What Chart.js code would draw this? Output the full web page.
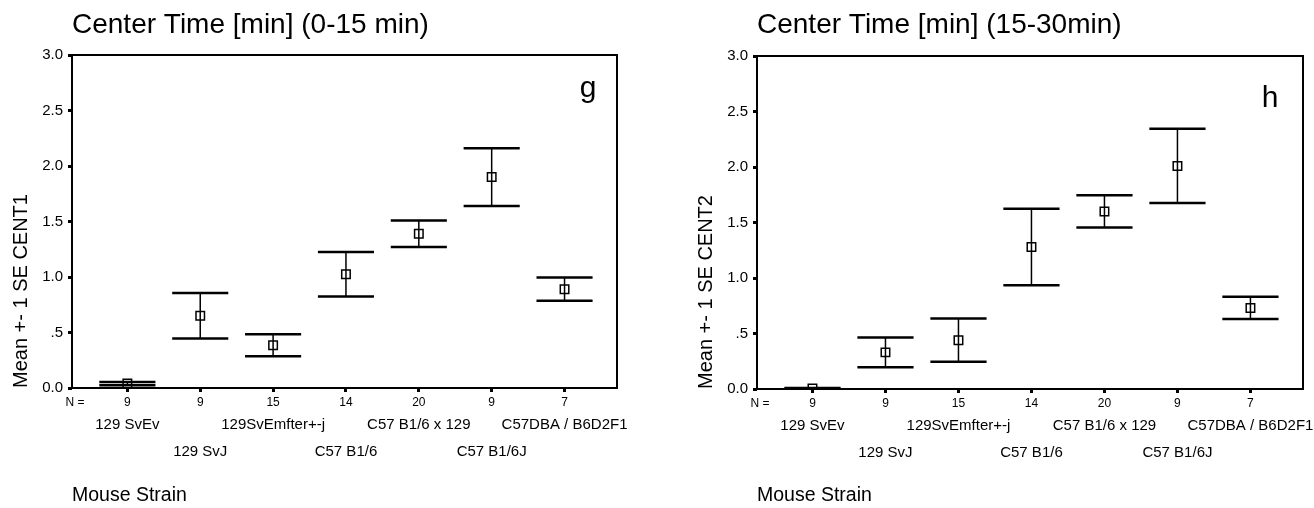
<!DOCTYPE html>
<html>
<head>
<meta charset="utf-8">
<script src="https://cdn.jsdelivr.net/npm/chart.js@4.4.0/dist/chart.umd.min.js"></script>
<style>
  html, body { margin: 0; padding: 0; background: #fff; overflow: hidden; }
  #wrap { position: relative; width: 1314px; height: 508px; overflow: hidden; }
  canvas { position: absolute; top: 0; }
</style>
</head>
<body>
<div id="wrap">
  <canvas id="chartG" width="685" height="508" style="left:0px"></canvas>
  <canvas id="chartH" width="629" height="508" style="left:685px"></canvas>
</div>
<script>
// data
const strains = ["129 SvEv", "129 SvJ", "129SvEmfter+-j", "C57 B1/6", "C57 B1/6 x 129", "C57 B1/6J", "C57DBA / B6D2F1"];
const nValues = [9, 9, 15, 14, 20, 9, 7];
const yTicks = [0, 0.5, 1, 1.5, 2, 2.5, 3];

const cent1Mean = [0.04, 0.65, 0.385, 1.025, 1.39, 1.9, 0.89];
const cent1Se   = [0.015, 0.205, 0.1, 0.2, 0.12, 0.26, 0.105];

const cent2Mean = [0.005, 0.33, 0.44, 1.28, 1.6, 2.01, 0.73];
const cent2Se   = [0.005, 0.135, 0.195, 0.345, 0.145, 0.335, 0.1];

const FONT = '"Liberation Sans", Arial, sans-serif';
const CAP = 0.385; // half width of the error bar caps, in category units
Chart.defaults.font.family = FONT;
Chart.defaults.color = "#000";

// box round the plot + panel letter
const framePlugin = {
  id: "frame",
  beforeDatasetsDraw(chart, args, opts) {
    const { ctx, chartArea: a } = chart;
    ctx.save();
    ctx.strokeStyle = "#000";
    ctx.lineWidth = 2;
    ctx.strokeRect(a.left, a.top, a.right - a.left, a.bottom - a.top);
    ctx.font = "30px " + FONT;
    ctx.fillStyle = "#000";
    ctx.textAlign = "center";
    ctx.textBaseline = "alphabetic";
    ctx.fillText(opts.letter, a.right - opts.dx, a.top + opts.dy);
    ctx.restore();
  }
};

const buildDatasets = (mean, se) => {
  const points = [], whiskers = [], upper = [], lower = [];
  mean.forEach((m, i) => {
    points.push({ x: i, y: m });
    whiskers.push({ x: i, y: m - se[i] }, { x: i, y: m + se[i] }, { x: i, y: null });
    upper.push({ x: i - CAP, y: m + se[i] }, { x: i + CAP, y: m + se[i] }, { x: i, y: null });
    lower.push({ x: i - CAP, y: m - se[i] }, { x: i + CAP, y: m - se[i] }, { x: i, y: null });
  });
  const line = { showLine: true, pointRadius: 0, borderColor: "#000", spanGaps: false };
  return [
    { data: points, showLine: false, pointStyle: "rect", pointRadius: 6, pointBorderWidth: 1.5,
      pointBorderColor: "#000", pointBackgroundColor: "rgba(0,0,0,0)" },
    { ...line, data: whiskers, borderWidth: 1.5 },
    { ...line, data: upper, borderWidth: 2.5 },
    { ...line, data: lower, borderWidth: 2.5 }
  ];
};

const catTicks = (extra) => (s) => {
  s.ticks = extra.concat([0, 1, 2, 3, 4, 5, 6]).map(v => ({ value: v }));
};

// labels may run past the plot edge, as in the figure
const fixedHeight = (h) => (s) => {
  s.height = h;
  s.paddingLeft = 0;
  s.paddingRight = 0;
};

const renderChart = (id, title, yTitle, mean, se, o) => {
  const ctx = document.getElementById(id);
  return new Chart(ctx, {
    type: "scatter",
    data: { datasets: buildDatasets(mean, se) },
    options: {
      responsive: false,
      animation: false,
      devicePixelRatio: 1,
      layout: { padding: { left: 0, right: o.padRight, top: 0, bottom: 0 } },
      plugins: {
        legend: { display: false },
        tooltip: { enabled: false },
        title: {
          display: true, text: title, align: "start", fullSize: false, color: "#000",
          font: { size: 28, weight: "normal" }, padding: { top: 8.5, bottom: o.titleBottom }
        },
        subtitle: {
          display: true, text: "Mouse Strain", position: "bottom", align: "start", fullSize: false,
          color: "#000", font: { size: 19.5, weight: "normal" }, padding: { top: o.subTop, bottom: 1 }
        },
        frame: { letter: o.letter, dx: o.letterDx, dy: o.letterDy }
      },
      scales: {
        x: {
          type: "linear", position: "bottom", min: -0.76, max: 6.72, weight: 0,
          afterBuildTicks: catTicks([-0.72]),
          afterFit: fixedHeight(18),
          border: { display: false },
          grid: {
            drawOnChartArea: false, tickLength: 4, tickWidth: 3,
            tickColor: c => (c.tick && c.tick.value < 0 ? "rgba(0,0,0,0)" : "#000")
          },
          ticks: {
            autoSkip: false, maxRotation: 0, padding: 3, color: "#000", font: { size: 12 },
            callback: v => (v < 0 ? "N =" : String(nValues[Math.round(v)]))
          }
        },
        names: {
          type: "linear", position: "bottom", min: -0.76, max: 6.72, weight: 1,
          afterBuildTicks: catTicks([]),
          afterFit: fixedHeight(60),
          border: { display: false },
          grid: { display: false, drawTicks: false },
          ticks: {
            autoSkip: false, maxRotation: 0, padding: 5, color: "#000",
            font: { size: 15, lineHeight: 1.8 },
            callback: v => {
              const i = Math.round(v);
              return i % 2 === 0 ? strains[i] : ["", strains[i]];
            }
          }
        },
        y: {
          min: 0, max: 3,
          afterBuildTicks: s => { s.ticks = yTicks.map(v => ({ value: v })); },
          afterFit: s => { s.width = 72; },
          border: { display: false },
          grid: { drawOnChartArea: false, tickLength: 4, tickWidth: 3, tickColor: "#000" },
          ticks: {
            padding: 5, color: "#000", font: { size: 15 },
            callback: v => (v === 0.5 ? ".5" : v.toFixed(1))
          },
          title: {
            display: true, text: yTitle, align: "start", color: "#000",
            font: { size: 20 }, padding: { top: 9, bottom: 0 }
          }
        }
      }
    },
    plugins: [framePlugin]
  });
};

renderChart("chartG", "Center Time [min] (0-15 min)", "Mean +- 1 SE CENT1", cent1Mean, cent1Se,
  { padRight: 68, titleBottom: 12.9, subTop: 17.6, letter: "g", letterDx: 29, letterDy: 42 });
renderChart("chartH", "Center Time [min] (15-30min)", "Mean +- 1 SE CENT2", cent2Mean, cent2Se,
  { padRight: 11, titleBottom: 13.9, subTop: 16.6, letter: "h", letterDx: 33, letterDy: 51 });
</script>
</body>
</html>
